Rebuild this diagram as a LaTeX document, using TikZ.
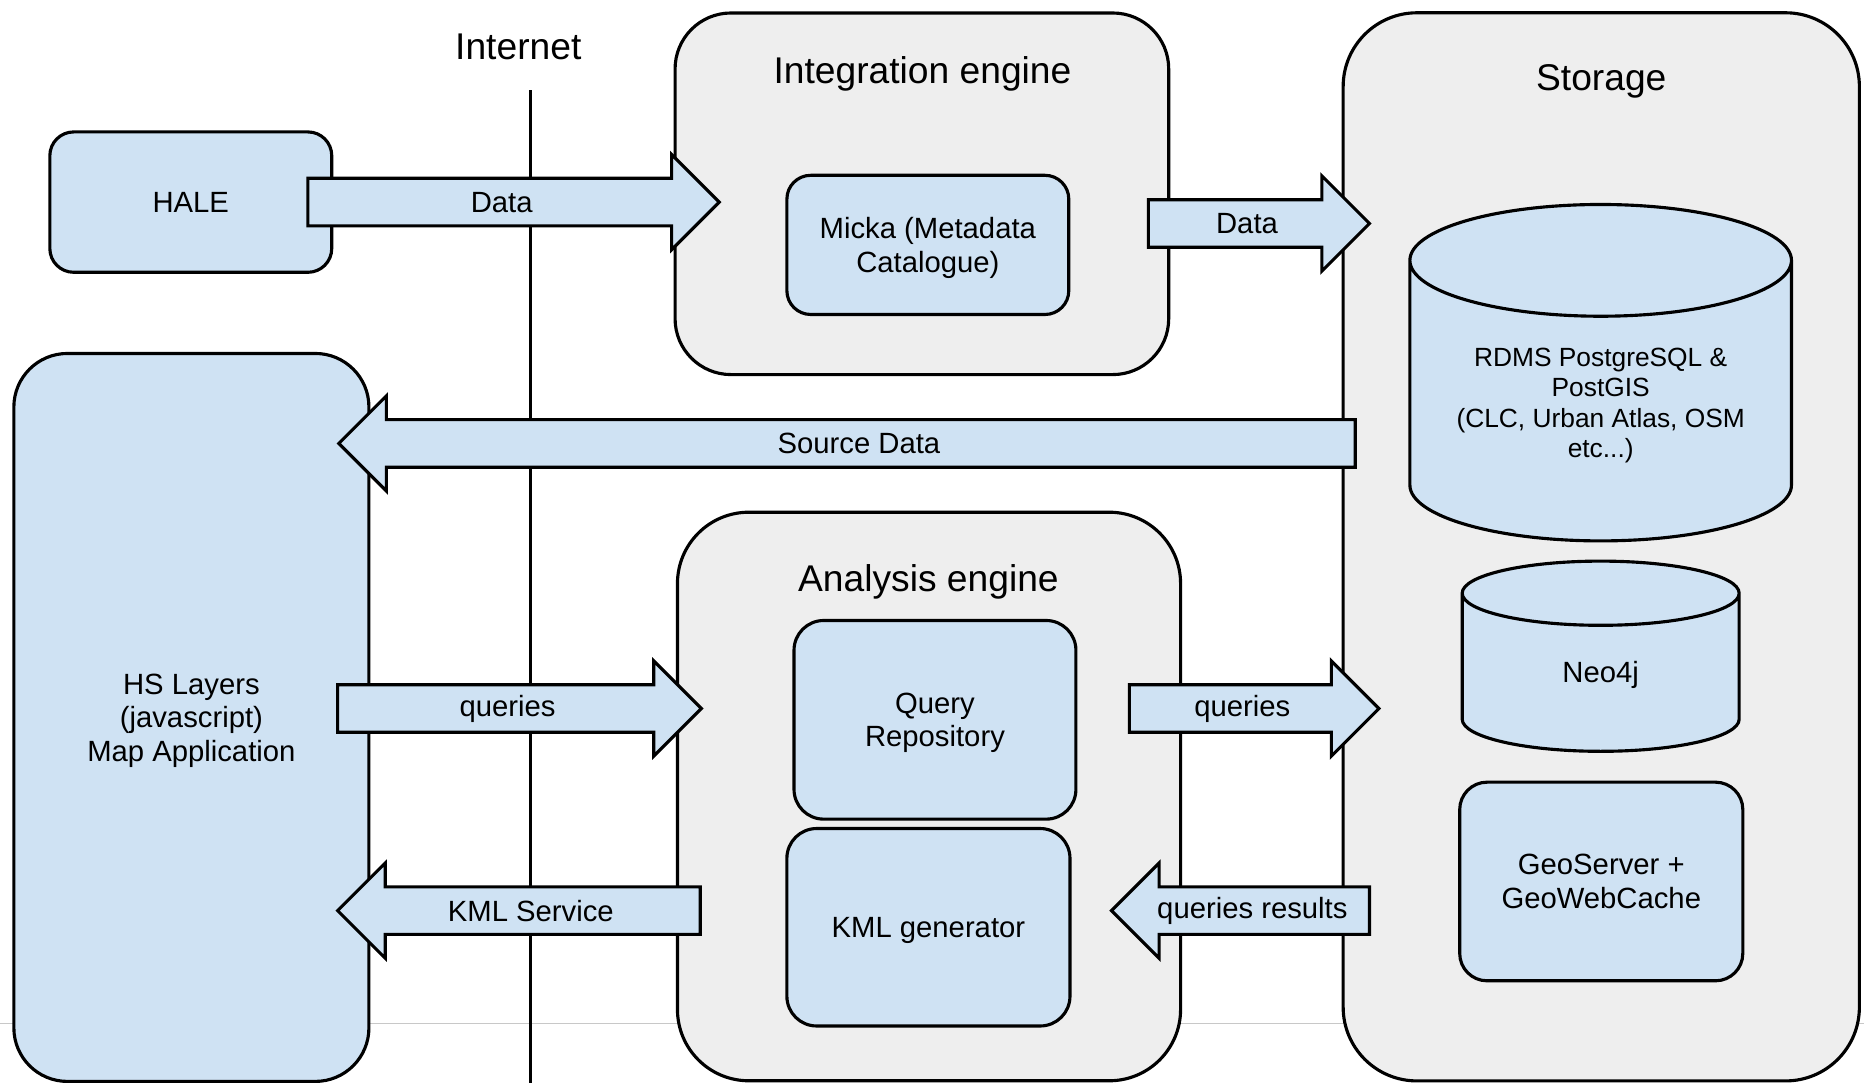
\documentclass[tikz,border=0pt]{standalone}
\usepackage{fontspec}
\setmainfont{Liberation Sans}
\usetikzlibrary{calc}
\definecolor{boxblue}{HTML}{CFE2F3}
\definecolor{enginegray}{HTML}{EEEEEE}
\definecolor{pagegray}{HTML}{C8C8C8}

% block arrow: tail, tip, name, label
\newcommand{\blockarrow}[4]{%
  \draw[outline, fill=boxblue] ($(#1)+(0,0.2cm)$) -- ($(#2)!0.4cm!(#1)+(0,0.2cm)$)
    -- ($(#2)!0.4cm!(#1)+(0,0.4cm)$) -- (#2) -- ($(#2)!0.4cm!(#1)-(0,0.4cm)$)
    -- ($(#2)!0.4cm!(#1)-(0,0.2cm)$) -- ($(#1)-(0,0.2cm)$) -- cycle;
  \node[arrowtext] (#3) at ($(#1)!0.5!(#2)!0.1cm!(#1)$) {#4};
}

% database drum: centre x, top y, bottom y, x radius, y radius
\newcommand{\dbcyl}[5]{%
  \draw[outline, fill=boxblue] ({#1-#4},{#2-#5}) -- ({#1-#4},{#3+#5})
    arc[start angle=180, end angle=360, x radius=#4, y radius=#5]
    -- ({#1+#4},{#2-#5})
    arc[start angle=0, end angle=180, x radius=#4, y radius=#5]
    arc[start angle=180, end angle=360, x radius=#4, y radius=#5];
}

\begin{document}
\begin{tikzpicture}[x=0.01cm, y=0.01cm,
    outline/.style={draw=black, line width=0.75pt},
    bluebox/.style={outline, fill=boxblue, align=center, text depth=0pt, font=\fontsize{7pt}{8pt}\selectfont},
    engine/.style={outline, fill=enginegray},
    headline/.style={text depth=0pt, font=\fontsize{8.9pt}{10pt}\selectfont},
    arrowtext/.style={font=\fontsize{7pt}{8pt}\selectfont, inner sep=0pt},
    dbtext/.style={align=center, text depth=0pt, font=\fontsize{7pt}{8pt}\selectfont}]
	\useasboundingbox (0,0) rectangle (1568,-911);

	% page edge behind everything
	\coordinate (pageL) at (0,-861);
	\coordinate (pageR) at (1568,-861);
	\draw[pagegray, line width=0.4pt] (pageL) -- (pageR);

	% Internet border
	\node[headline] (net) at (436,-39) {Internet};
	\coordinate (netTop) at (446,-76);
	\coordinate (netBot) at (446,-911);
	\draw[outline] (netTop) -- (netBot);

	% Engines and storage
	\node[engine, rounded corners=0.47cm, minimum width=4.15cm, minimum height=3.04cm] (integ) at (775.5,-163) {};
	\node[headline] (integT) at (776,-59) {Integration engine};
	\node[engine, rounded corners=0.6cm, minimum width=4.23cm, minimum height=4.78cm] (analysis) at (781.5,-670) {};
	\node[headline] (analysisT) at (781,-486) {Analysis engine};
	\node[engine, rounded corners=0.62cm, minimum width=4.34cm, minimum height=8.98cm] (storage) at (1347,-460) {};
	\node[headline] (storageT) at (1347,-65) {Storage};

	% Client side
	\node[bluebox, rounded corners=0.2cm, minimum width=2.37cm, minimum height=1.18cm] (hale) at (160.5,-170) {HALE};
	\node[bluebox, rounded corners=0.45cm, minimum width=2.985cm, minimum height=6.12cm] (hs) at (161,-603.5) {HS Layers\\(javascript)\\Map Application};

	% Inner boxes
	\node[bluebox, rounded corners=0.2cm, minimum width=2.37cm, minimum height=1.17cm] (micka) at (780.5,-206) {Micka (Metadata\\Catalogue)};
	\node[bluebox, rounded corners=0.25cm, minimum width=2.37cm, minimum height=1.67cm] (qrep) at (786.5,-605.5) {Query\\Repository};
	\node[bluebox, rounded corners=0.25cm, minimum width=2.38cm, minimum height=1.66cm] (kmlgen) at (781,-780) {KML generator};
	\node[bluebox, rounded corners=0.23cm, minimum width=2.38cm, minimum height=1.67cm] (geo) at (1347,-741.5) {GeoServer +\\GeoWebCache};

	% Databases
	\dbcyl{1346.5}{-172}{-455}{160.5}{47}
	\node[dbtext, font=\fontsize{6.3pt}{7.3pt}\selectfont] (rdms) at (1346.5,-339) {RDMS PostgreSQL \&\\PostGIS\\(CLC, Urban Atlas, OSM\\etc...)};
	\dbcyl{1346.5}{-472}{-632}{116.5}{27}
	\node[dbtext] (neo) at (1346.5,-565) {Neo4j};

	% Arrow ends
	\coordinate (d1s) at (259,-170);   \coordinate (d1e) at (605,-170);
	\coordinate (d2s) at (966,-188);   \coordinate (d2e) at (1152,-188);
	\coordinate (srcS) at (1140,-373); \coordinate (srcE) at (285,-373);
	\coordinate (q1s) at (284,-596);   \coordinate (q1e) at (590,-596);
	\coordinate (q2s) at (950,-596);   \coordinate (q2e) at (1160,-596);
	\coordinate (kmlS) at (589,-766);  \coordinate (kmlE) at (284,-766);
	\coordinate (resS) at (1152,-766); \coordinate (resE) at (935,-766);

	% Draw block arrows
	\foreach \a/\b/\n/\t in {d1s/d1e/data1/Data, d2s/d2e/data2/Data, srcS/srcE/source/Source Data,
	    q1s/q1e/query1/queries, q2s/q2e/query2/queries, kmlS/kmlE/kml/KML Service,
	    resS/resE/results/queries results}
	  \blockarrow{\a}{\b}{\n}{\t};
\end{tikzpicture}
\end{document}
